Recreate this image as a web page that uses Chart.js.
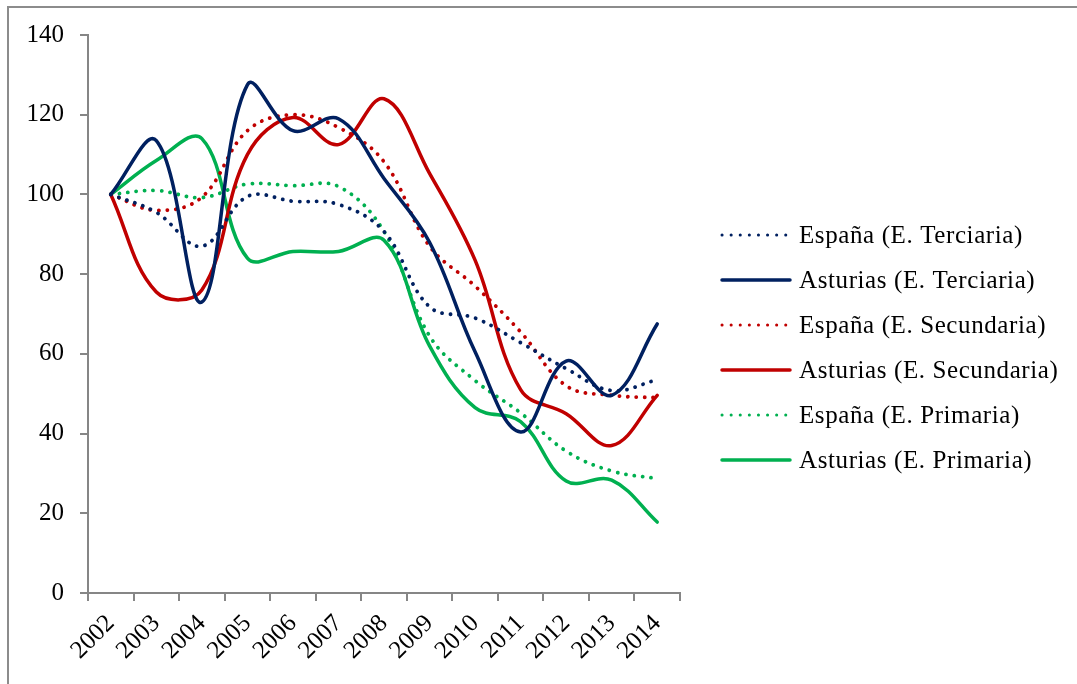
<!DOCTYPE html>
<html lang="es">
<head>
  <meta charset="UTF-8">
  <title>España / Asturias</title>
  <script src="https://cdn.jsdelivr.net/npm/chart.js"></script>
  <style>
    html, body { margin: 0; padding: 0; background: #fff; }
    #wrap { position: relative; width: 1077px; height: 684px; overflow: hidden; }
    #frame { position: absolute; left: 7px; top: 6px; width: 2000px; height: 2000px;
             border-top: 2px solid #8c8c8c; border-left: 2px solid #8c8c8c; }
    canvas { position: absolute; left: 0; top: 0; }
  </style>
</head>
<body>
  <div id="wrap">
    <div id="frame"></div>
    <canvas id="chart" width="1077" height="684"></canvas>
  </div>

  <script>
    const years = ['2002', '2003', '2004', '2005', '2006', '2007', '2008', '2009', '2010', '2011', '2012', '2013', '2014'];
    const yTicks = [0, 20, 40, 60, 80, 100, 120, 140];

    const espanaTerciaria   = [100, 95.5, 87, 99.5, 98.3, 97.5, 90.7, 71.8, 69, 62.8, 56.3, 50.8, 53.5];
    const asturiasTerciaria = [100, 113.5, 73, 127.5, 116, 119, 104, 88, 60.5, 40.4, 58.2, 49.6, 67.5];
    const espanaSecundaria  = [100, 96, 99.3, 116, 120, 116.8, 108.2, 87, 77, 65.5, 52, 49.6, 49];
    const asturiasSecundaria = [100, 75.5, 76, 110, 119.3, 112.5, 124, 105.3, 83.5, 51, 45, 37, 49.6];
    const espanaPrimaria    = [100, 101, 99.2, 102.6, 102.2, 102, 90.7, 64.5, 53.3, 45.2, 35.6, 30.6, 28.7];
    const asturiasPrimaria  = [100, 108.5, 114, 84, 85.7, 85.7, 88.5, 62, 46.5, 43, 28.1, 28.3, 17.8];

    const NAVY = '#002060', RED = '#C00000', GREEN = '#00B050';
    const FONT = 'Liberation Serif, Times New Roman, serif';
    const DOTS = [0.1, 8.4];

    function line(label, data, color, dotted) {
      return {
        label: label,
        data: data,
        borderColor: color,
        backgroundColor: color,
        borderWidth: dotted ? 3.8 : 3.5,
        borderDash: dotted ? DOTS : [],
        borderCapStyle: 'round',
        pointRadius: 0,
        fill: false,
        tension: 0.38
      };
    }

    // legend drawn by hand so it sits where the original one does
    const sideLegend = {
      id: 'sideLegend',
      afterDraw(chart) {
        const ctx = chart.ctx;
        chart.data.datasets.forEach((ds, i) => {
          const y = 235 + 45 * i;
          ctx.save();
          ctx.strokeStyle = ds.borderColor;
          ctx.lineWidth = ds.borderDash.length ? 3 : 3.5;
          ctx.lineCap = 'round';
          ctx.setLineDash(ds.borderDash.length ? [0.1, 9] : []);
          ctx.beginPath();
          ctx.moveTo(722, y);
          ctx.lineTo(790, y);
          ctx.stroke();
          ctx.setLineDash([]);
          ctx.fillStyle = '#000';
          ctx.font = '25px ' + FONT;
          ctx.letterSpacing = '0.6px';
          ctx.textBaseline = 'middle';
          ctx.fillText(ds.label, 799, y + 1);
          ctx.restore();
        });
      }
    };

    new Chart(document.getElementById('chart'), {
      type: 'line',
      data: {
        labels: years,
        datasets: [
          line('España (E. Terciaria)', espanaTerciaria, NAVY, true),
          line('Asturias (E. Terciaria)', asturiasTerciaria, NAVY, false),
          line('España (E. Secundaria)', espanaSecundaria, RED, true),
          line('Asturias (E. Secundaria)', asturiasSecundaria, RED, false),
          line('España (E. Primaria)', espanaPrimaria, GREEN, true),
          line('Asturias (E. Primaria)', asturiasPrimaria, GREEN, false)
        ]
      },
      options: {
        responsive: false,
        animation: false,
        layout: { padding: { top: 35, right: 397, left: 0, bottom: 0 } },
        plugins: { legend: { display: false }, tooltip: { enabled: false } },
        scales: {
          x: {
            offset: true,
            grid: { offset: true, drawOnChartArea: false, drawTicks: true, tickLength: 8, color: '#868686', lineWidth: 2 },
            border: { color: '#868686', width: 2 },
            ticks: { color: '#000', font: { family: FONT, size: 25 }, autoSkip: false, minRotation: 45, maxRotation: 45, padding: 8 },
            afterFit(s) { s.height = 91; }
          },
          y: {
            min: 0,
            max: 140,
            afterBuildTicks(s) { s.ticks = yTicks.map(v => ({ value: v })); },
            grid: { drawOnChartArea: false, drawTicks: true, tickLength: 8, color: '#868686', lineWidth: 2 },
            border: { color: '#868686', width: 2 },
            ticks: { color: '#000', font: { family: FONT, size: 25 }, padding: 16 },
            afterFit(s) { s.width = 88; }
          }
        }
      },
      plugins: [sideLegend]
    });
  </script>
</body>
</html>
